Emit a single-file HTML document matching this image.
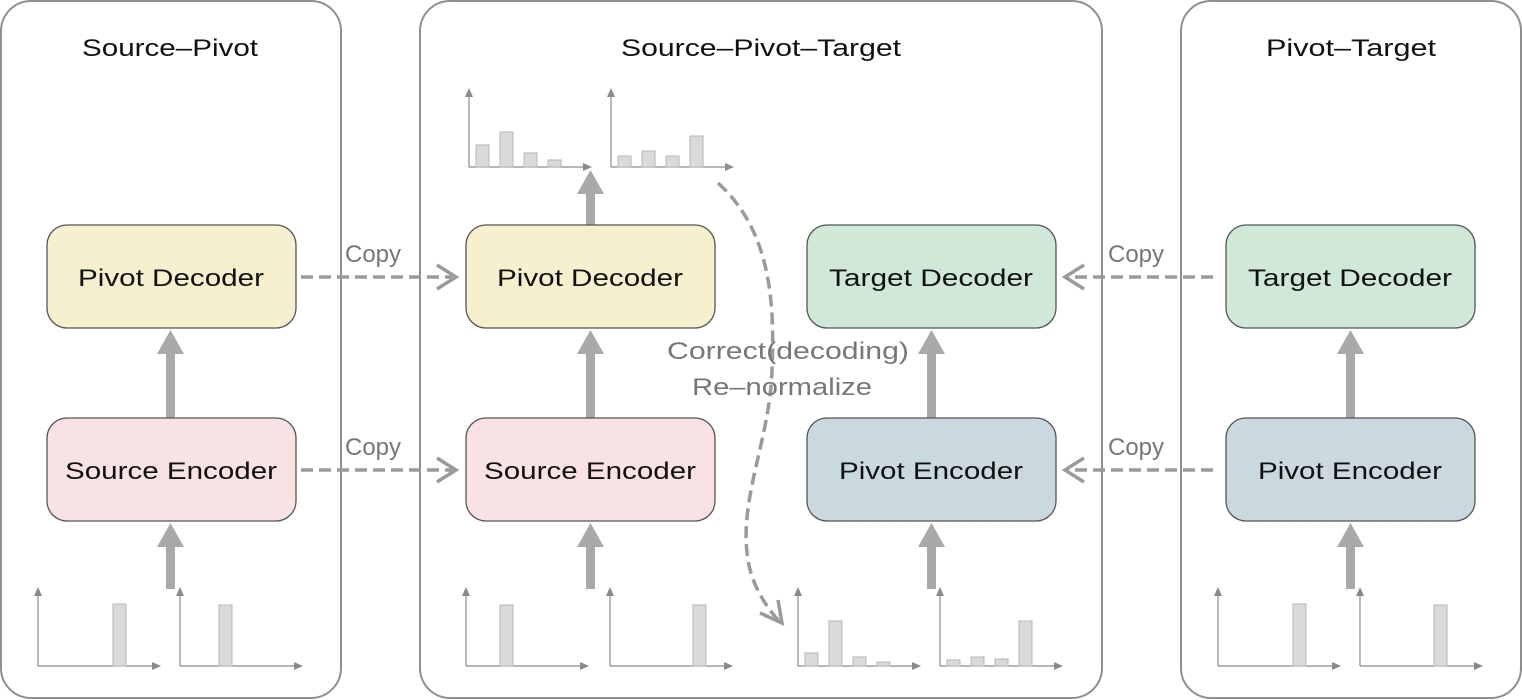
<!DOCTYPE html>
<html><head><meta charset="utf-8"><style>
html,body{margin:0;padding:0;background:#fff;}
svg{display:block;}
text{font-family:"Liberation Sans",sans-serif;}
</style></head><body>
<svg width="1522" height="700" viewBox="0 0 1522 700" xmlns="http://www.w3.org/2000/svg">
<defs>
<marker id="ah" markerWidth="10" markerHeight="10" refX="9" refY="5" orient="auto" markerUnits="userSpaceOnUse"></marker>
</defs>
<!-- panels -->
<g fill="none" stroke="#8f8f8f" stroke-width="2">
<rect x="1" y="1" width="340" height="697" rx="30"/>
<rect x="420" y="1" width="682" height="697" rx="30"/>
<rect x="1181" y="1" width="340" height="697" rx="30"/>
</g>
<g font-size="24" fill="#111" text-anchor="middle">
<text x="170" y="56" textLength="176" lengthAdjust="spacingAndGlyphs">Source–Pivot</text>
<text x="761" y="56" textLength="280" lengthAdjust="spacingAndGlyphs">Source–Pivot–Target</text>
<text x="1351" y="56" textLength="170" lengthAdjust="spacingAndGlyphs">Pivot–Target</text>
</g>
<!-- thick arrows -->
<g fill="#a9a9a9">
<!-- helper: shaft + head -->
<rect x="166" y="352" width="9" height="66"/><polygon points="157,354 184,354 170.5,330"/>
<rect x="166" y="545" width="9" height="44"/><polygon points="157,547 184,547 170.5,523"/>
<rect x="586" y="352" width="9" height="66"/><polygon points="577,354 604,354 590.5,330"/>
<rect x="586" y="545" width="9" height="44"/><polygon points="577,547 604,547 590.5,523"/>
<rect x="586" y="192" width="9" height="33"/><polygon points="577,194 604,194 590.5,170"/>
<rect x="927" y="352" width="9" height="66"/><polygon points="918,354 945,354 931.5,330"/>
<rect x="927" y="545" width="9" height="44"/><polygon points="918,547 945,547 931.5,523"/>
<rect x="1346" y="352" width="9" height="66"/><polygon points="1337,354 1364,354 1350.5,330"/>
<rect x="1346" y="545" width="9" height="44"/><polygon points="1337,547 1364,547 1350.5,523"/>
</g>
<!-- boxes -->
<g stroke="#555" stroke-width="1.3">
<rect x="47" y="225" width="249" height="103" rx="20" fill="#f6f0cf"/>
<rect x="47" y="418" width="249" height="103" rx="20" fill="#f9e2e4"/>
<rect x="466" y="225" width="249" height="103" rx="20" fill="#f6f0cf"/>
<rect x="466" y="418" width="249" height="103" rx="20" fill="#f9e2e4"/>
<rect x="807" y="225" width="249" height="103" rx="20" fill="#cfe8d7"/>
<rect x="807" y="418" width="249" height="103" rx="20" fill="#cad8df"/>
<rect x="1226" y="225" width="249" height="103" rx="20" fill="#cfe8d7"/>
<rect x="1226" y="418" width="249" height="103" rx="20" fill="#cad8df"/>
</g>
<g font-size="24" fill="#111" text-anchor="middle">
<text x="171" y="286" textLength="186" lengthAdjust="spacingAndGlyphs">Pivot Decoder</text>
<text x="171" y="479" textLength="212" lengthAdjust="spacingAndGlyphs">Source Encoder</text>
<text x="590" y="286" textLength="186" lengthAdjust="spacingAndGlyphs">Pivot Decoder</text>
<text x="590" y="479" textLength="212" lengthAdjust="spacingAndGlyphs">Source Encoder</text>
<text x="931" y="286" textLength="204" lengthAdjust="spacingAndGlyphs">Target Decoder</text>
<text x="931" y="479" textLength="184" lengthAdjust="spacingAndGlyphs">Pivot Encoder</text>
<text x="1350" y="286" textLength="204" lengthAdjust="spacingAndGlyphs">Target Decoder</text>
<text x="1350" y="479" textLength="184" lengthAdjust="spacingAndGlyphs">Pivot Encoder</text>
</g>
<!-- dashed copy arrows -->
<g stroke="#9a9a9a" stroke-width="3.5" fill="none">
<g stroke-dasharray="12,6">
<line x1="301" y1="277" x2="452" y2="277"/>
<line x1="301" y1="470" x2="452" y2="470"/>
<line x1="1213" y1="277" x2="1068" y2="277"/>
<line x1="1213" y1="470" x2="1068" y2="470"/>
<path d="M718,183 C770,230 775,300 772,370 C770,440 738,500 748,560 C752,585 765,605 778,620"/>
</g>
<polyline points="437,265 456,277 437,289"/>
<polyline points="437,458 456,470 437,482"/>
<polyline points="1084,265 1065,277 1084,289"/>
<polyline points="1084,458 1065,470 1084,482"/>
<polyline points="760,613 782,623 778,600"/>
</g>
<g font-size="24" fill="#777">
<text x="345" y="262">Copy</text>
<text x="345" y="455">Copy</text>
<text x="1108" y="262">Copy</text>
<text x="1108" y="455">Copy</text>
<text x="788" y="359" text-anchor="middle" textLength="242" lengthAdjust="spacingAndGlyphs">Correct(decoding)</text>
<text x="782" y="395" text-anchor="middle" textLength="180" lengthAdjust="spacingAndGlyphs">Re–normalize</text>
</g>
<!-- charts -->
<g stroke="#8a8a8a" stroke-width="1.2" fill="none">
<path d="M38,666V594M38,666H154M180,666V594M180,666H296M466,666V594M466,666H582M610,666V594M610,666H726M798,666V594M798,666H914M940,666V594M940,666H1056M1218,666V594M1218,666H1334M1360,666V594M1360,666H1476M469,167V95M469,167H585M611,167V95M611,167H727"/>
</g>
<g fill="#8a8a8a">
<polygon points="34,596 42,596 38,587"/><polygon points="152,662 152,670 161,666"/>
<polygon points="176,596 184,596 180,587"/><polygon points="294,662 294,670 303,666"/>
<polygon points="462,596 470,596 466,587"/><polygon points="580,662 580,670 589,666"/>
<polygon points="606,596 614,596 610,587"/><polygon points="724,662 724,670 733,666"/>
<polygon points="794,596 802,596 798,587"/><polygon points="912,662 912,670 921,666"/>
<polygon points="936,596 944,596 940,587"/><polygon points="1054,662 1054,670 1063,666"/>
<polygon points="1214,596 1222,596 1218,587"/><polygon points="1332,662 1332,670 1341,666"/>
<polygon points="1356,596 1364,596 1360,587"/><polygon points="1474,662 1474,670 1483,666"/>
<polygon points="465,97 473,97 469,88"/><polygon points="583,163 583,171 592,167"/>
<polygon points="607,97 615,97 611,88"/><polygon points="725,163 725,171 734,167"/>
</g>
<g fill="#dadada" stroke="#b5b5b5" stroke-width="1">
<rect x="113" y="604" width="13" height="62"/>
<rect x="219" y="605" width="13" height="61"/>
<rect x="500" y="605" width="13" height="61"/>
<rect x="693" y="605" width="13" height="61"/>
<rect x="1293" y="604" width="13" height="62"/>
<rect x="1434" y="605" width="13" height="61"/>
<rect x="805" y="653" width="13" height="13"/>
<rect x="829" y="621" width="13" height="45"/>
<rect x="853" y="657" width="13" height="9"/>
<rect x="877" y="662" width="13" height="4"/>
<rect x="947" y="660" width="13" height="6"/>
<rect x="971" y="657" width="13" height="9"/>
<rect x="995" y="659" width="13" height="7"/>
<rect x="1019" y="621" width="13" height="45"/>
<rect x="476" y="145" width="13" height="22"/>
<rect x="500" y="132" width="13" height="35"/>
<rect x="524" y="153" width="13" height="14"/>
<rect x="548" y="160" width="13" height="7"/>
<rect x="618" y="156" width="13" height="11"/>
<rect x="642" y="151" width="13" height="16"/>
<rect x="666" y="156" width="13" height="11"/>
<rect x="690" y="136" width="13" height="31"/>
</g>
</svg>
</body></html>
